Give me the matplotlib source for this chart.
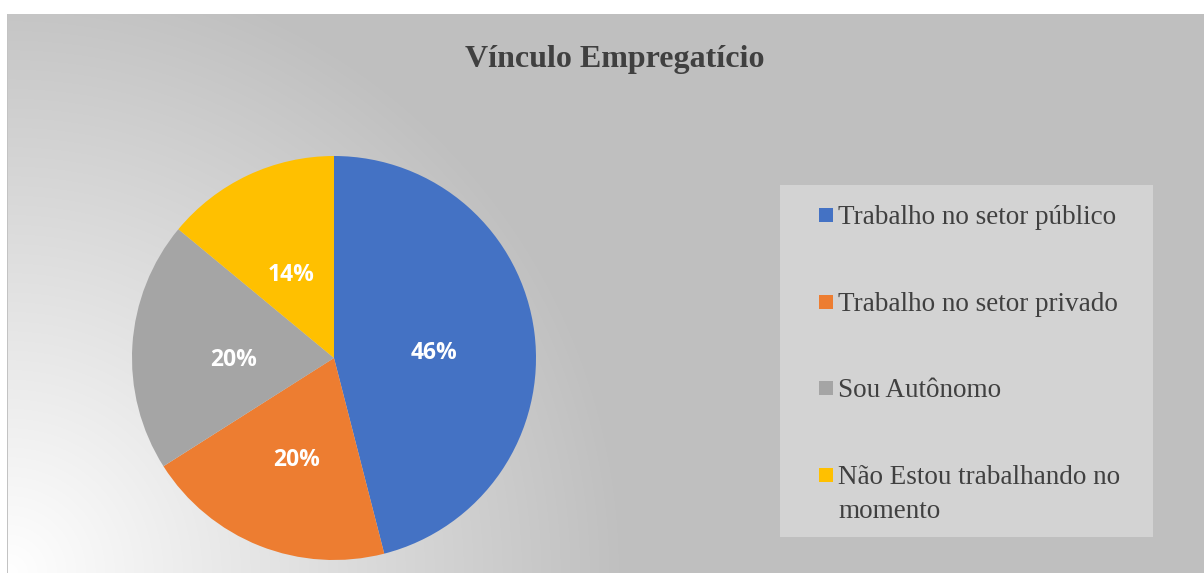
import matplotlib.pyplot as plt
import matplotlib.patches as mpatches
import numpy as np

categories = ["Trabalho no setor público", "Trabalho no setor privado",
              "Sou Autônomo", "Não Estou trabalhando no\nmomento"]
values = [46, 20, 20, 14]
colors = ["#4472C4", "#ED7D31", "#A5A5A5", "#FFC000"]
title = "Vínculo Empregatício"

W, H = 1204, 573
fig = plt.figure(figsize=(W / 100, H / 100), dpi=100)

# background: gray with a white radial glow from the bottom-left corner
bg = fig.add_axes([0, 0, 1, 1])
yy, xx = np.mgrid[0:H, 0:W]
d = np.sqrt((xx - 8.0) ** 2 + (yy - H) ** 2) / 620.0
t = np.clip(d, 0, 1)
img = 255 - (255 - 191) * t
img[:14, :] = 255
img[:, :7] = 255
img[14:, 7] = 195
img = np.dstack([img, img, img]).astype(np.uint8)
bg.imshow(img, extent=[0, W, H, 0], aspect="auto", interpolation="bilinear")
bg.set_xlim(0, W)
bg.set_ylim(H, 0)
bg.axis("off")

# pie
cx, cy, r = 334, 358, 202
ax = fig.add_axes([(cx - r) / W, (H - cy - r) / H, 2 * r / W, 2 * r / H])
wedges, texts, autotexts = ax.pie(values, colors=colors, startangle=90, counterclock=False,
                                  autopct="%1.0f%%", pctdistance=0.5, radius=1,
                                  wedgeprops=dict(linewidth=0))
for at in autotexts:
    x, y = at.get_position()
    at.set_position((x, y - 0.04))
    at.set_color("white")
    at.set_fontsize(16.5)
    at.set_fontweight("bold")
    at.set_fontfamily("Open Sans")
ax.set_xlim(-1, 1)
ax.set_ylim(-1, 1)
ax.set_aspect("equal")
ax.axis("off")

fig.text(615 / W, 1 - 60 / H, title, ha="center", va="center", fontsize=23,
         fontweight="bold", family="Liberation Serif", color="#404040")

# legend box drawn by hand
box = mpatches.Rectangle((780 / W, 1 - 537 / H), (1153 - 780) / W, (537 - 185) / H,
                         transform=fig.transFigure, facecolor="#D3D3D3",
                         edgecolor="none", zorder=1)
fig.patches.append(box)
for i, (lab, col) in enumerate(zip(categories, colors)):
    yc = 215 + i * 86.7
    sq = mpatches.Rectangle((819 / W, 1 - (yc + 7) / H), 14 / W, 14 / H,
                            transform=fig.transFigure, facecolor=col,
                            edgecolor="none", zorder=2)
    fig.patches.append(sq)
    fig.text(838 / W, 1 - (yc - 10) / H, lab, ha="left", va="top", fontsize=19.5,
             family="Liberation Serif", color="#404040", linespacing=1.45)

fig.savefig("out.png", dpi=100)
